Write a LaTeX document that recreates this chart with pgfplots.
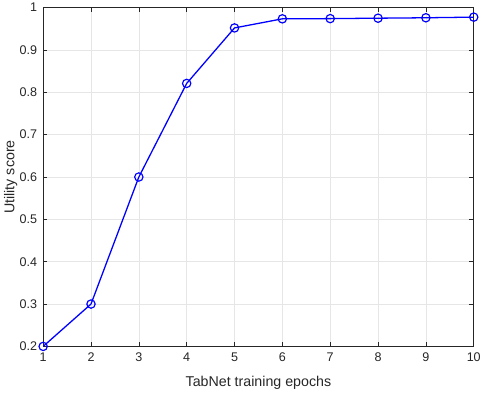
\documentclass[border=0pt]{standalone}
\usepackage{fontspec}
\setmainfont{Liberation Sans}
\usepackage{pgfplots}
\pgfplotsset{compat=1.18}
\definecolor{AxGray}{HTML}{262626}
\definecolor{GridGray}{HTML}{E6E6E6}
\begin{document}
\begin{tikzpicture}
\begin{axis}[
  name=ax,
  scale only axis, width=434bp, height=341.5bp,
  xmin=1, xmax=10, ymin=0.2, ymax=1,
  xtick={1,...,10},
  ytick={0.2,0.3,...,1.0},
  yticklabels={0.2,0.3,0.4,0.5,0.6,0.7,0.8,0.9,1},
  tick align=inside,
  major tick length=4.3bp,
  axis line style={AxGray, line width=0.6pt},
  tick style={AxGray, line width=0.6pt},
  grid=major,
  grid style={GridGray, line width=0.5pt},
  /pgf/number format/assume math mode=true,
  ticklabel style={font=\fontsize{12.7}{15}\selectfont, color=AxGray},
  xticklabel style={yshift=-3bp},
  yticklabel style={xshift=-2.5bp},
  xlabel={TabNet training epochs},
  ylabel={Utility score},
  label style={font=\fontsize{14.4}{17}\selectfont, color=AxGray},
  xlabel style={at={([yshift=-40.5bp]axis description cs:0.5,0)}, anchor=base},
  ylabel style={at={([xshift=-29bp]axis description cs:0,0.5)}, anchor=base, rotate=0},
]
\addplot[color=blue, line width=1.3pt, mark=o, mark size=4.2bp, mark options={line width=1.2pt}]
  coordinates {(1,0.2) (2,0.3) (3,0.6) (4,0.821) (5,0.952) (6,0.9735) (7,0.974) (8,0.975) (9,0.976) (10,0.9775)};
\end{axis}
\path ([xshift=-43.5bp,yshift=-43bp]ax.south west) ([xshift=6.5bp,yshift=4.7bp]ax.north east);
\end{tikzpicture}
\end{document}
